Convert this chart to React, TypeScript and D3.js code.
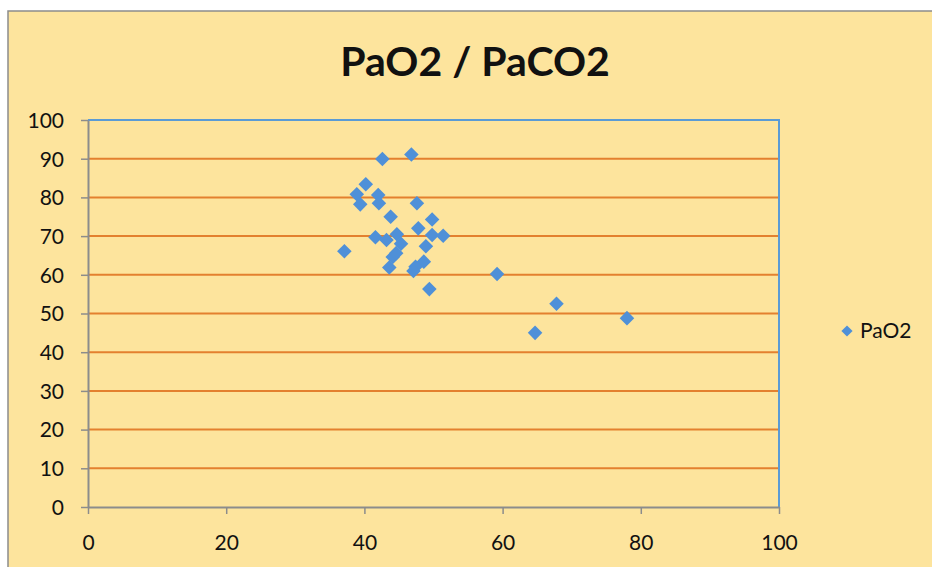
import * as React from "react"
import * as d3 from "d3"

// PaCO2 (x) / PaO2 (y) readings
const paco2 = [
  37.1, 38.9, 39.4, 40.2, 42.6, 42.0, 42.1, 41.6, 46.8, 43.8, 43.2, 44.7, 45.3,
  44.1, 44.6, 43.6, 47.6, 47.8, 49.8, 49.8, 51.4, 48.9, 48.6, 47.4, 47.1, 49.4,
  59.2, 64.7, 67.8, 78.0,
]
const pao2 = [
  66.1, 80.8, 78.2, 83.4, 89.9, 80.6, 78.5, 69.7, 91.1, 75.0, 69.0, 70.5, 68.0,
  64.6, 65.6, 61.9, 78.5, 72.0, 74.3, 70.3, 70.1, 67.4, 63.4, 62.1, 61.0, 56.3,
  60.2, 45.0, 52.5, 48.8,
]
const xTicks = [0, 20, 40, 60, 80, 100]
const yTicks = [0, 10, 20, 30, 40, 50, 60, 70, 80, 90, 100]
const title = "PaO2 / PaCO2"
const seriesName = "PaO2"

const font = "Lato, 'Noto Sans', sans-serif"

function render(svgRef: React.RefObject<SVGSVGElement>) {
  const width = 932
  const height = 567
  const margin = { top: 120, right: 153, bottom: 60, left: 88 }

  const svg = d3.select(svgRef.current).attr("width", width).attr("height", height)
  svg.selectAll("*").remove()

  // chart area background
  svg
    .append("rect")
    .attr("x", 8)
    .attr("y", 11)
    .attr("width", width)
    .attr("height", height)
    .attr("fill", "#FDE49D")
    .attr("stroke", "#8c8c8c")
    .attr("stroke-width", 1.5)

  const xScale = d3.scaleLinear().domain([0, 100]).range([margin.left, width - margin.right])
  const yScale = d3.scaleLinear().domain([0, 100]).range([height - margin.bottom, margin.top])

  // horizontal gridlines
  svg
    .selectAll(".grid")
    .data(yTicks.filter((d) => d > 0 && d < 100))
    .join("line")
    .attr("class", "grid")
    .attr("x1", xScale(0))
    .attr("x2", xScale(100))
    .attr("y1", (d) => yScale(d))
    .attr("y2", (d) => yScale(d))
    .attr("stroke", "#E3802F")
    .attr("stroke-width", 2)

  // plot frame top/right (blue)
  svg
    .append("path")
    .attr("d", `M${xScale(0)},${yScale(100)}H${xScale(100)}V${yScale(0)}`)
    .attr("fill", "none")
    .attr("stroke", "#5B9BD5")
    .attr("stroke-width", 2)

  // axes
  const xAxis = svg
    .append("g")
    .attr("transform", `translate(0,${yScale(0)})`)
    .call(d3.axisBottom(xScale).tickValues(xTicks).tickSize(7).tickPadding(21).tickSizeOuter(0))
  const yAxis = svg
    .append("g")
    .attr("transform", `translate(${xScale(0)},0)`)
    .call(d3.axisLeft(yScale).tickValues(yTicks).tickSize(7).tickPadding(17).tickSizeOuter(0))

  for (const ax of [xAxis, yAxis]) {
    ax.select(".domain").attr("stroke", "#8c8c8c").attr("stroke-width", 2)
    ax.selectAll(".tick line").attr("stroke", "#8c8c8c").attr("stroke-width", 1.5)
    ax.selectAll(".tick text")
      .attr("fill", "#111")
      .style("font-family", font)
      .style("font-size", "21px")
  }
  yAxis.selectAll(".tick text").attr("dy", "0.35em")

  const diamond = d3.symbol().type(d3.symbolDiamond2).size(135)

  svg
    .selectAll(".pt")
    .data(paco2.map((x, i) => [x, pao2[i]]))
    .join("path")
    .attr("class", "pt")
    .attr("d", diamond)
    .attr("transform", (d) => `translate(${xScale(d[0])},${yScale(d[1])})`)
    .attr("fill", "#4F90D8")

  // title
  svg
    .append("text")
    .attr("x", 475)
    .attr("y", 76)
    .attr("text-anchor", "middle")
    .style("font-family", font)
    .style("font-weight", "bold")
    .style("font-size", "41px")
    .attr("fill", "#111")
    .text(title)

  // legend
  svg
    .append("path")
    .attr("d", d3.symbol().type(d3.symbolDiamond2).size(80))
    .attr("transform", `translate(847,331)`)
    .attr("fill", "#4F90D8")
  svg
    .append("text")
    .attr("x", 860)
    .attr("y", 331)
    .attr("dy", "0.35em")
    .style("font-family", font)
    .style("font-size", "21px")
    .attr("fill", "#111")
    .text(seriesName)
}

export default function App(): React.JSX.Element {
  const svg = React.useRef<SVGSVGElement>(null)

  React.useEffect(() => {
    render(svg)
  }, [])

  return (
    <div style={{ position: "fixed", left: 0, top: 0, width: 932, height: 567, background: "#fff" }}>
      <svg ref={svg} style={{ display: "block" }}></svg>
    </div>
  )
}
